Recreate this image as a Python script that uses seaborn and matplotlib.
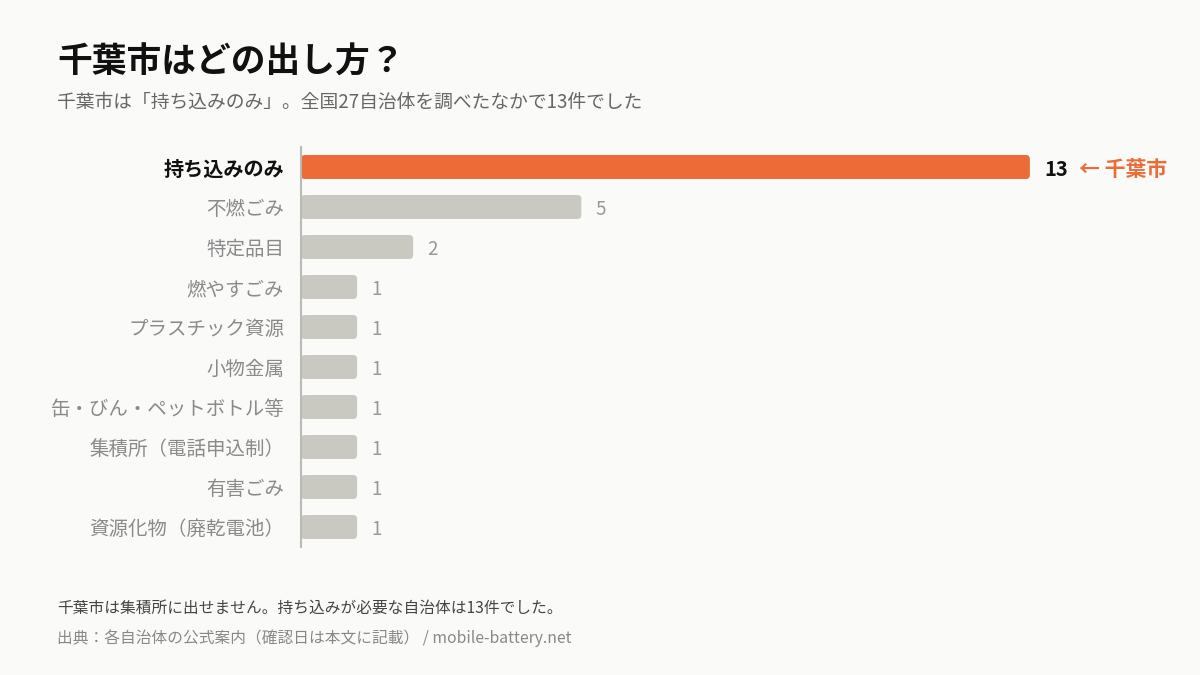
import matplotlib
matplotlib.use("Agg")
import matplotlib.pyplot as plt
import seaborn as sns
import pandas as pd
from matplotlib.patches import FancyBboxPatch

categories = ["持ち込みのみ", "不燃ごみ", "特定品目", "燃やすごみ", "プラスチック資源", "小物金属",
              "缶・びん・ペットボトル等", "集積所（電話申込制）", "有害ごみ", "資源化物（廃乾電池）"]
values = [13, 5, 2, 1, 1, 1, 1, 1, 1, 1]

sns.set_theme(style="white")
plt.rcParams['font.family'] = ['Noto Sans CJK JP', 'DejaVu Sans']

BG = "#FAFAF9"
ORANGE = "#EC6B36"
GRAY = "#C9C9C1"
df = pd.DataFrame({"cat": categories, "val": values})
colors = [ORANGE] + [GRAY] * (len(values) - 1)

fig = plt.figure(figsize=(12, 6.75), dpi=100, facecolor=BG)
ax = fig.add_axes([301/1200, 1-547/675, 841/1200, 400/675], facecolor=BG)
sns.barplot(data=df, x="val", y="cat", hue="cat", palette=colors, legend=False,
            width=0.6, ax=ax, orient="h", saturation=1)
ax.set_xlim(0, 15)
ax.set_ylim(len(values)-0.5, -0.5)

for p in list(ax.patches):
    x, y, w, h = p.get_x(), p.get_y(), p.get_width(), p.get_height()
    fc = p.get_facecolor()
    p.remove()
    ax.add_patch(FancyBboxPatch((x, y), w, h, boxstyle="round,pad=0,rounding_size=0.07",
                                mutation_aspect=1.4, fc=fc, ec="none", zorder=2))

for i, v in enumerate(values):
    if i == 0:
        ax.text(v + 0.25, i, str(v), va="center_baseline", ha="left", fontsize=14.5, fontweight="bold", color="#111")
        ax.text(v + 0.88, i, "← 千葉市", va="center_baseline", ha="left", fontsize=15, fontweight="bold", color=ORANGE)
    else:
        ax.text(v + 0.25, i, str(v), va="center_baseline", ha="left", fontsize=13.5, color="#999")

ax.set_yticks(range(len(categories)))
ax.set_yticklabels(categories)
for i, t in enumerate(ax.get_yticklabels()):
    t.set_verticalalignment("center_baseline")
    if i == 0:
        t.set_fontweight("bold"); t.set_color("#111"); t.set_fontsize(14.5)
    else:
        t.set_color("#8a8a8a"); t.set_fontsize(14)
ax.tick_params(axis="y", length=0, pad=12)
ax.set_xticks([])
ax.set_xlabel(""); ax.set_ylabel("")
for s in ["top", "right", "bottom"]:
    ax.spines[s].set_visible(False)
ax.spines["left"].set_color("#bbbbb5")
ax.spines["left"].set_linewidth(1.5)

fig.text(57/1200, 1-62/675, "千葉市はどの出し方？", fontsize=25, fontweight="bold", color="#111", va="center")
fig.text(57/1200, 1-102/675, "千葉市は「持ち込みのみ」。全国27自治体を調べたなかで13件でした", fontsize=13.5, color="#666", va="center")
fig.text(57/1200, 1-608/675, "千葉市は集積所に出せません。持ち込みが必要な自治体は13件でした。", fontsize=11.3, color="#444", va="center")
fig.text(57/1200, 1-638/675, "出典：各自治体の公式案内（確認日は本文に記載） / mobile-battery.net", fontsize=11.3, color="#888", va="center")

fig.savefig("out.png", dpi=100, facecolor=BG)
